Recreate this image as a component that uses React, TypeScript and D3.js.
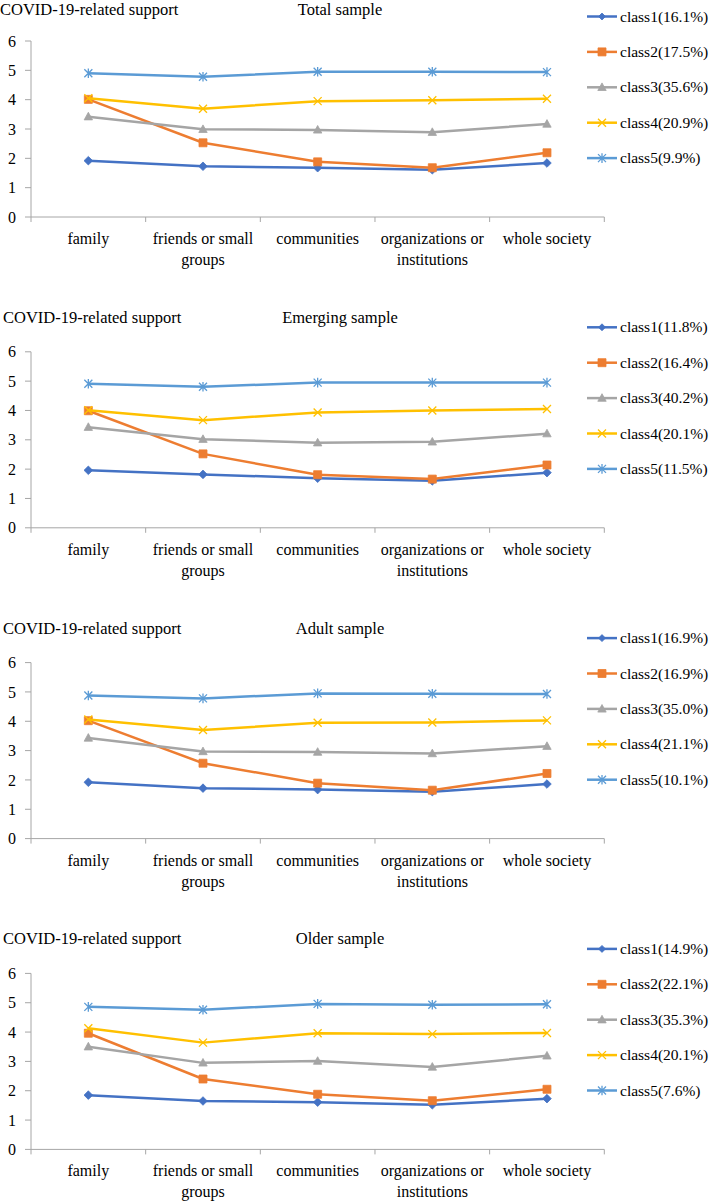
import React from 'react';
import * as d3 from 'd3';

// categories on the x axis
const categories = [
  'family',
  'friends or small groups',
  'communities',
  'organizations or institutions',
  'whole society',
];

const classNames = ['class1', 'class2', 'class3', 'class4', 'class5'];
const classColors = ['#4472C4', '#ED7D31', '#A5A5A5', '#FFC000', '#5B9BD5'];
const yTicks = [0, 1, 2, 3, 4, 5, 6];

const panelTitles = ['Total sample', 'Emerging sample', 'Adult sample', 'Older sample'];

// class share (%) per panel
const totalShares = [16.1, 17.5, 35.6, 20.9, 9.9];
const emergingShares = [11.8, 16.4, 40.2, 20.1, 11.5];
const adultShares = [16.9, 16.9, 35.0, 21.1, 10.1];
const olderShares = [14.9, 22.1, 35.3, 20.1, 7.6];

// mean support per class (rows) and category (columns)
const totalValues = [
  [1.92, 1.73, 1.68, 1.61, 1.84],
  [4.01, 2.53, 1.88, 1.68, 2.19],
  [3.42, 2.99, 2.97, 2.89, 3.17],
  [4.05, 3.69, 3.95, 3.98, 4.03],
  [4.9, 4.78, 4.95, 4.95, 4.94],
];
const emergingValues = [
  [1.96, 1.82, 1.69, 1.6, 1.88],
  [3.99, 2.52, 1.81, 1.66, 2.14],
  [3.43, 3.02, 2.9, 2.93, 3.21],
  [4.01, 3.67, 3.93, 4.0, 4.05],
  [4.91, 4.81, 4.95, 4.95, 4.95],
];
const adultValues = [
  [1.92, 1.72, 1.67, 1.6, 1.86],
  [4.02, 2.57, 1.89, 1.65, 2.22],
  [3.43, 2.97, 2.95, 2.9, 3.15],
  [4.06, 3.7, 3.95, 3.96, 4.03],
  [4.88, 4.78, 4.95, 4.94, 4.93],
];
const olderValues = [
  [1.85, 1.65, 1.61, 1.52, 1.73],
  [3.96, 2.4, 1.88, 1.66, 2.05],
  [3.5, 2.95, 3.01, 2.81, 3.19],
  [4.13, 3.64, 3.96, 3.93, 3.97],
  [4.86, 4.76, 4.96, 4.93, 4.95],
];

const panels = [
  { title: panelTitles[0], shares: totalShares, values: totalValues },
  { title: panelTitles[1], shares: emergingShares, values: emergingValues },
  { title: panelTitles[2], shares: adultShares, values: adultValues },
  { title: panelTitles[3], shares: olderShares, values: olderValues },
];

const WIDTH = 709;
const HEIGHT = 1201;
const FONT = '"Liberation Serif", "Times New Roman", serif';
const AXIS_COLOR = '#a6a6a6';

// greedy word wrap, roughly what Excel does for these labels
const wrap = (label: string, maxChars = 16): string[] => {
  const lines: string[] = [];
  let cur = '';
  label.split(' ').forEach((w) => {
    const next = cur ? cur + ' ' + w : w;
    if (next.length > maxChars && cur) {
      lines.push(cur);
      cur = w;
    } else cur = next;
  });
  if (cur) lines.push(cur);
  return lines;
};

// marker paths centred at 0,0
const markerPath = (i: number, s: number): string => {
  switch (i) {
    case 0:
      return `M0,${-s}L${s},0L0,${s}L${-s},0Z`;
    case 1:
      return `M${-s},${-s}H${s}V${s}H${-s}Z`;
    case 2:
      return `M0,${-s * 1.1}L${s * 1.05},${s * 0.8}L${-s * 1.05},${s * 0.8}Z`;
    case 3:
      return `M${-s},${-s}L${s},${s}M${s},${-s}L${-s},${s}`;
    default:
      return `M${-s},${-s}L${s},${s}M${s},${-s}L${-s},${s}M0,${-s * 1.2}V${s * 1.2}`;
  }
};

const Marker: React.FC<{ idx: number; x: number; y: number; legend?: boolean }> = ({ idx, x, y, legend }) => {
  const color = classColors[idx];
  const size = idx === 0 ? (legend ? 3.5 : 4.3) : 4;
  const stroked = idx >= 3;
  return (
    <path
      transform={`translate(${x},${y})`}
      d={markerPath(idx, size)}
      fill={stroked ? 'none' : color}
      stroke={color}
      strokeWidth={stroked ? 1.3 : 0.8}
    />
  );
};

const Panel: React.FC<{ index: number }> = ({ index }) => {
  const panel = panels[index];
  const top = 41 + index * 310.8;
  const x0 = 31;
  const x1 = 604.3;

  const x = d3.scaleBand<string>().domain(categories).range([x0, x1]).padding(0);
  const y = d3.scaleLinear().domain([0, 6]).range([top + 176, top]);
  const cx = (c: string) => (x(c) as number) + x.bandwidth() / 2;

  const line = d3
    .line<number>()
    .x((_, i) => cx(categories[i]))
    .y((d) => y(d));

  const baseY = y(0);
  const boundaries = categories.map((c) => x(c) as number).concat([x1]);
  // the first title sits against the top edge; keep it fully inside
  const titleY = index === 0 ? 15 : top - 29;

  return (
    <g>
      <text x={index === 0 ? 0 : 3} y={titleY} fontSize={16.5}>
        COVID-19-related support
      </text>
      <text x={340} y={titleY} fontSize={16.5} textAnchor="middle">
        {panel.title}
      </text>

      {/* y axis */}
      <line x1={x0} x2={x0} y1={y(6)} y2={baseY} stroke={AXIS_COLOR} strokeWidth={1} />
      {yTicks.map((t) => (
        <g key={t}>
          <line x1={x0 - 6} x2={x0} y1={y(t)} y2={y(t)} stroke={AXIS_COLOR} strokeWidth={1} />
          <text x={16} y={y(t)} dy="0.35em" fontSize={16} textAnchor="end">
            {t}
          </text>
        </g>
      ))}

      {/* x axis */}
      <line x1={x0} x2={x1} y1={baseY} y2={baseY} stroke={AXIS_COLOR} strokeWidth={1} />
      {boundaries.map((b, i) => (
        <line key={i} x1={b} x2={b} y1={baseY} y2={baseY + 5} stroke={AXIS_COLOR} strokeWidth={1} />
      ))}
      {categories.map((c) => (
        <text key={c} x={cx(c)} y={baseY + 27} fontSize={16} textAnchor="middle">
          {wrap(c).map((ln, k) => (
            <tspan key={k} x={cx(c)} dy={k === 0 ? 0 : 21}>
              {ln}
            </tspan>
          ))}
        </text>
      ))}

      {/* series */}
      {panel.values.map((vals, si) => (
        <g key={si}>
          <path d={line(vals) || ''} fill="none" stroke={classColors[si]} strokeWidth={2.5} strokeLinejoin="round" />
          {vals.map((v, ci) => (
            <Marker key={ci} idx={si} x={cx(categories[ci])} y={y(v)} />
          ))}
        </g>
      ))}

      {/* legend */}
      {classNames.map((name, si) => {
        const ly = top - 24.5 + si * 35.4;
        return (
          <g key={name}>
            <line x1={587} x2={617} y1={ly} y2={ly} stroke={classColors[si]} strokeWidth={2.5} />
            <Marker idx={si} x={602} y={ly} legend />
            <text x={620} y={ly} dy="0.33em" fontSize={15.5}>
              {`${name}(${panel.shares[si].toFixed(1)}%)`}
            </text>
          </g>
        );
      })}
    </g>
  );
};

const App: React.FC = () => {
  return (
    <svg
      width={WIDTH}
      height={HEIGHT}
      viewBox={`0 0 ${WIDTH} ${HEIGHT}`}
      style={{ position: 'absolute', left: 0, top: 0, display: 'block', background: '#fff' }}
      fontFamily={FONT}
      fill="#000"
    >
      <rect width={WIDTH} height={HEIGHT} fill="#fff" />
      {panels.map((_, i) => (
        <Panel key={i} index={i} />
      ))}
    </svg>
  );
};

export default App;
